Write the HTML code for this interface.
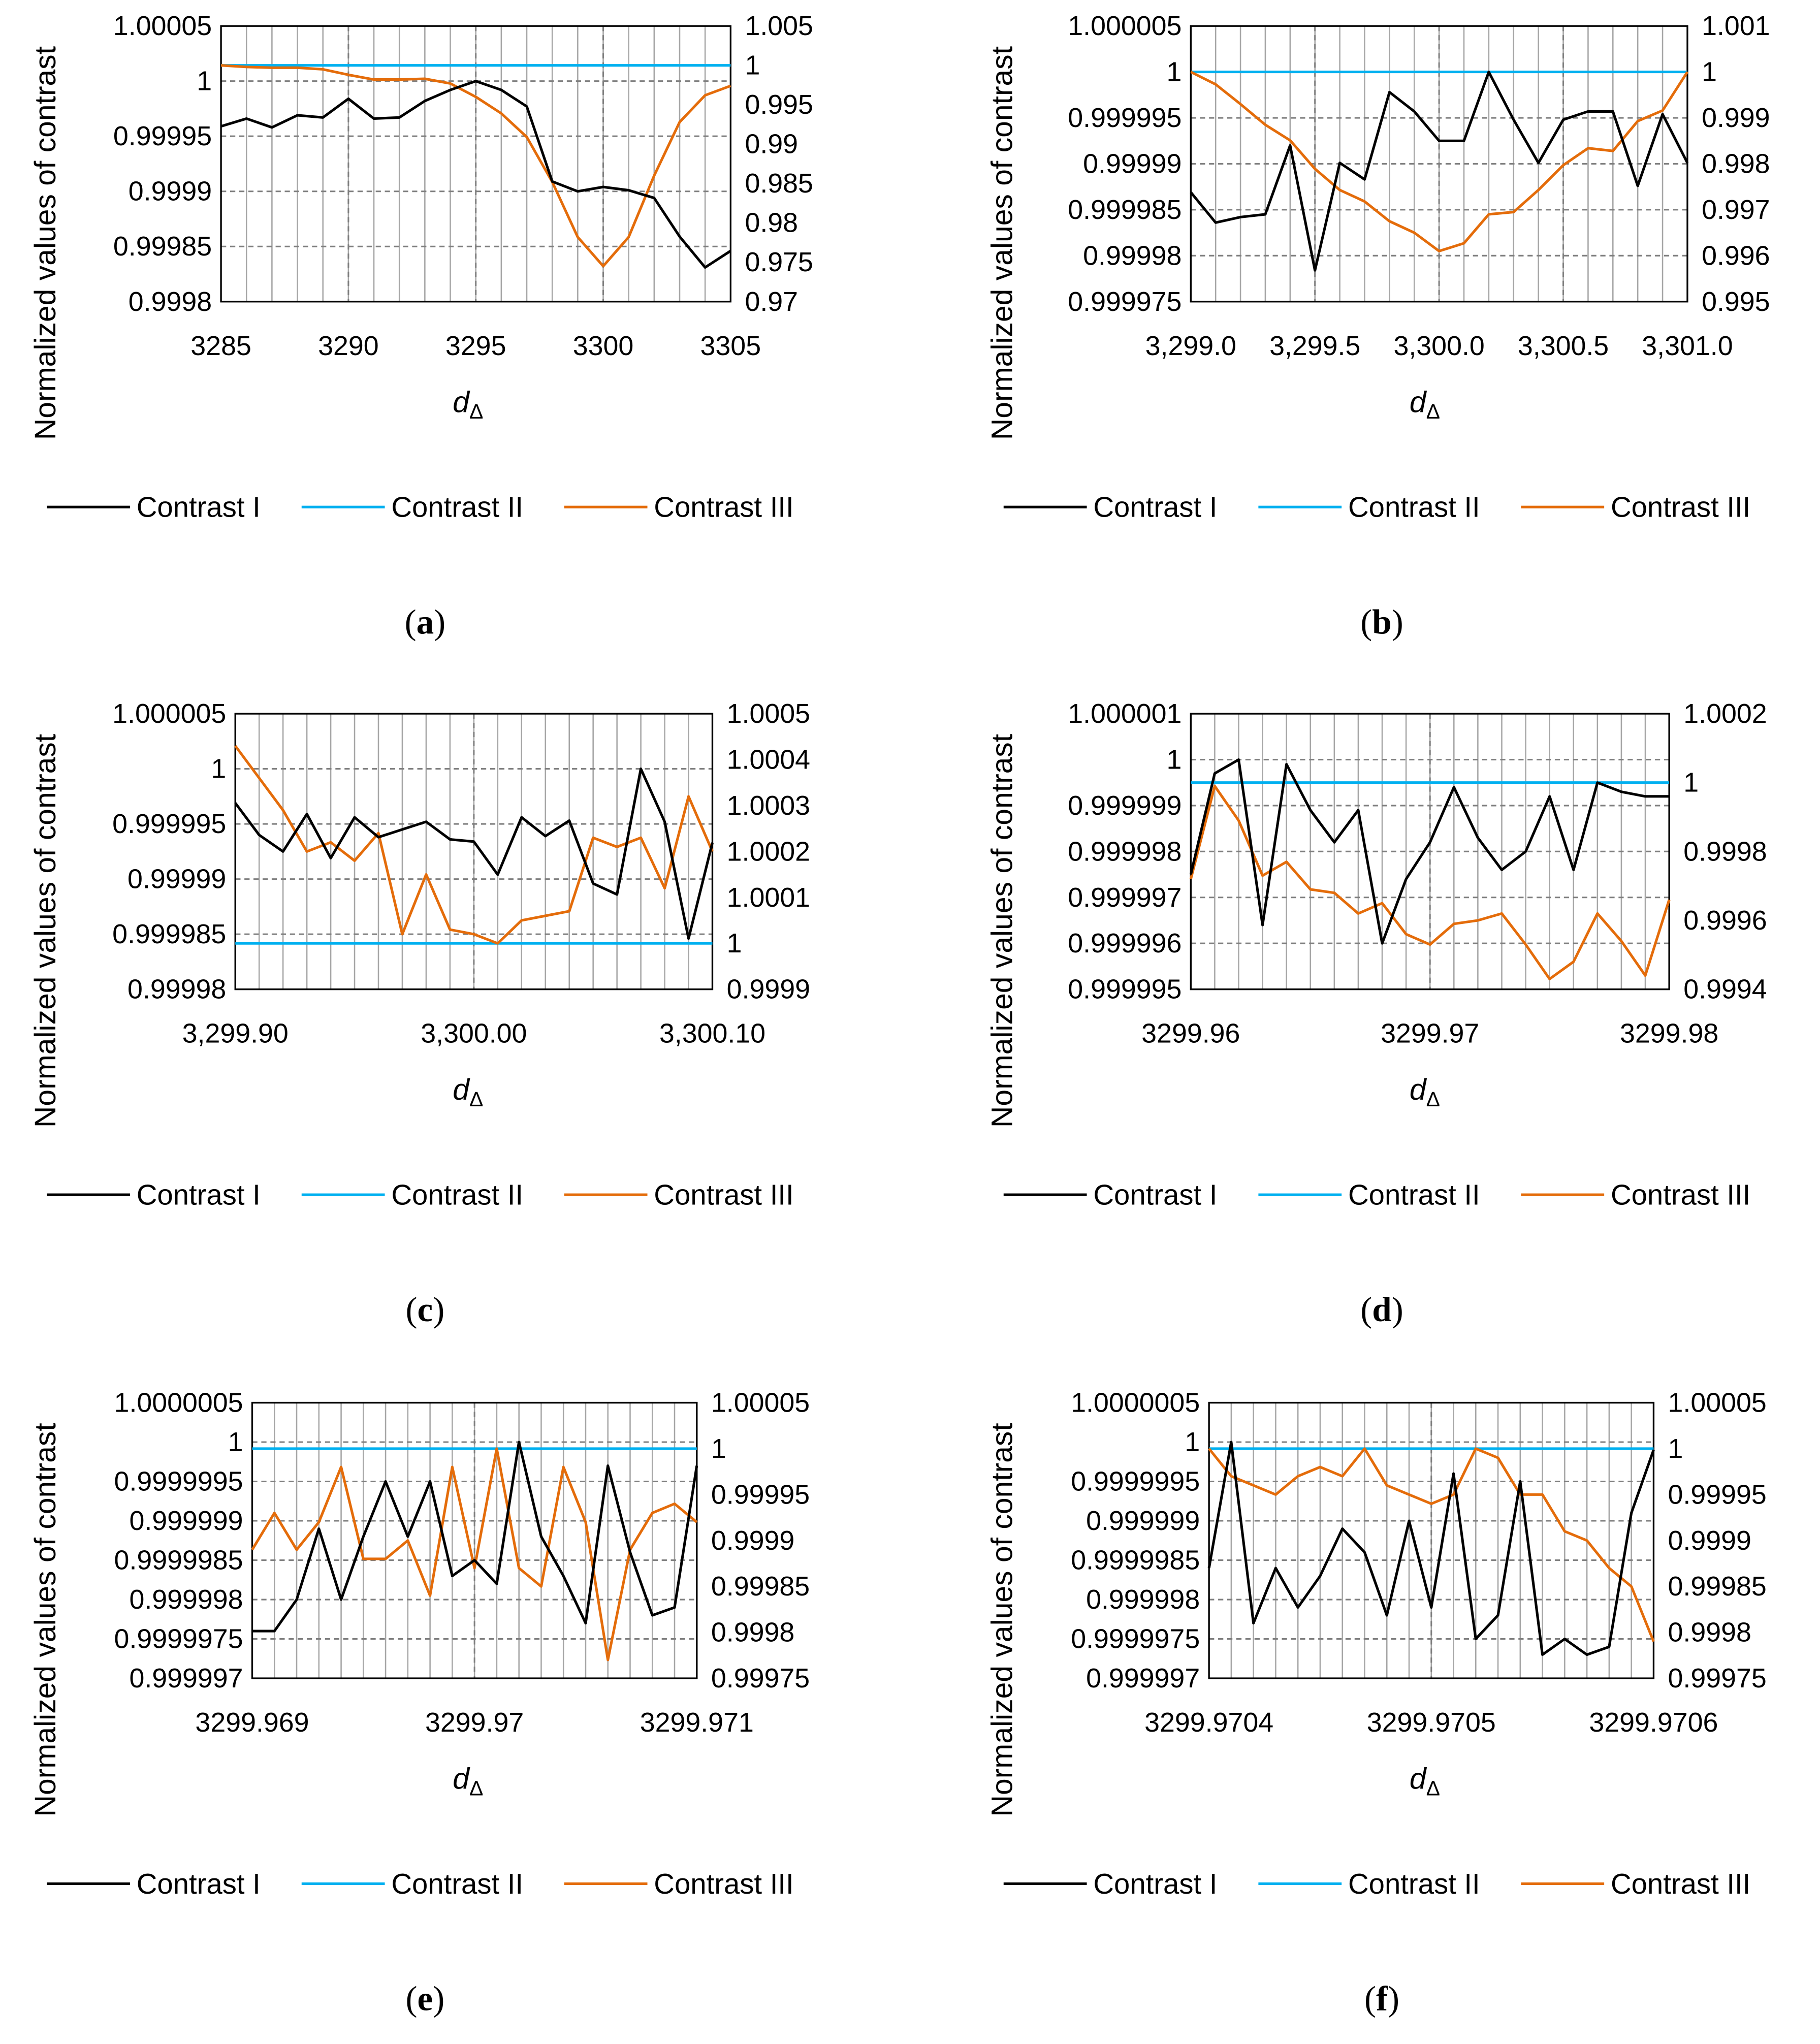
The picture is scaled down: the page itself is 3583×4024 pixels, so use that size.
<!DOCTYPE html>
<html><head><meta charset="utf-8">
<style>
html,body{margin:0;padding:0;background:#fff;}
svg{display:block;}
text{font-family:"Liberation Sans",sans-serif;fill:#000;}
</style></head>
<body>
<svg id="fig" width="3583" height="4024" viewBox="0 0 1400 1572.3" preserveAspectRatio="none" xmlns="http://www.w3.org/2000/svg"></svg>
<script>
// ---- data (index 0..20 across each x range) ----
const aBlack=[0.999959,0.999966,0.999958,0.999969,0.999967,0.999984,0.999966,0.999967,0.999982,0.999992,1.000000,0.999992,0.999977,0.999909,0.999900,0.999904,0.999901,0.999894,0.999859,0.999831,0.999846];
const aOrange=[1.0000,0.9998,0.9997,0.9997,0.9995,0.9988,0.9982,0.9982,0.9983,0.9977,0.9960,0.9939,0.9909,0.9852,0.9782,0.9745,0.9782,0.9860,0.9928,0.9962,0.9974];
const bBlack=[0.9999869,0.9999836,0.9999842,0.9999845,0.9999920,0.9999784,0.9999901,0.9999883,0.9999978,0.9999957,0.9999925,0.9999925,1.0000000,0.9999948,0.9999901,0.9999948,0.9999957,0.9999957,0.9999876,0.9999954,0.9999901];
const bOrange=[1.0000,0.99973,0.99930,0.99885,0.99851,0.99789,0.99743,0.99718,0.99675,0.99650,0.99610,0.99627,0.99690,0.99695,0.99743,0.99797,0.99834,0.99828,0.99893,0.99916,1.0000];
const cBlack=[0.9999969,0.9999940,0.9999925,0.9999959,0.9999919,0.9999956,0.9999938,0.9999945,0.9999952,0.9999936,0.9999934,0.9999904,0.9999956,0.9999939,0.9999953,0.9999896,0.9999886,1.0000000,0.9999952,0.9999846,0.9999933];
const cOrange=[1.00043,1.00036,1.00029,1.00020,1.00022,1.00018,1.00024,1.00002,1.00015,1.00003,1.00002,1.00000,1.00005,1.00006,1.00007,1.00023,1.00021,1.00023,1.00012,1.00032,1.00020];
const dBlack=[0.9999975,0.9999997,1.0000000,0.9999964,0.9999999,0.9999989,0.9999982,0.9999989,0.9999960,0.9999974,0.9999982,0.9999994,0.9999983,0.9999976,0.9999980,0.9999992,0.9999976,0.9999995,0.9999993,0.9999992,0.9999992];
const dOrange=[0.99972,0.99999,0.99989,0.99973,0.99977,0.99969,0.99968,0.99962,0.99965,0.99956,0.99953,0.99959,0.99960,0.99962,0.99953,0.99943,0.99948,0.99962,0.99954,0.99944,0.99966];
const eBlack=[0.9999976,0.9999976,0.9999980,0.9999989,0.9999980,0.9999988,0.9999995,0.9999988,0.9999995,0.9999983,0.9999985,0.9999982,1.0000000,0.9999988,0.9999983,0.9999977,0.9999997,0.9999986,0.9999978,0.9999979,0.9999997];
const eOrange=[0.99989,0.99993,0.99989,0.99992,0.99998,0.99988,0.99988,0.99990,0.99984,0.99998,0.99987,1.00000,0.99987,0.99985,0.99998,0.99992,0.99977,0.99989,0.99993,0.99994,0.99992];
const fBlack=[0.9999984,1.0000000,0.9999977,0.9999984,0.9999979,0.9999983,0.9999989,0.9999986,0.9999978,0.9999990,0.9999979,0.9999996,0.9999975,0.9999978,0.9999995,0.9999973,0.9999975,0.9999973,0.9999974,0.9999991,0.9999999];
const fOrange=[1.00000,0.99997,0.99996,0.99995,0.99997,0.99998,0.99997,1.00000,0.99996,0.99995,0.99994,0.99995,1.00000,0.99999,0.99995,0.99995,0.99991,0.99990,0.99987,0.99985,0.99979];
const contrastII=1;
// tick labels
const aLeft=["1.00005","1","0.99995","0.9999","0.99985","0.9998"], aRight=["1.005","1","0.995","0.99","0.985","0.98","0.975","0.97"], aX=["3285","3290","3295","3300","3305"];
const bLeft=["1.000005","1","0.999995","0.99999","0.999985","0.99998","0.999975"], bRight=["1.001","1","0.999","0.998","0.997","0.996","0.995"], bX=["3,299.0","3,299.5","3,300.0","3,300.5","3,301.0"];
const cLeft=["1.000005","1","0.999995","0.99999","0.999985","0.99998"], cRight=["1.0005","1.0004","1.0003","1.0002","1.0001","1","0.9999"], cX=["3,299.90","3,300.00","3,300.10"];
const dLeft=["1.000001","1","0.999999","0.999998","0.999997","0.999996","0.999995"], dRight=["1.0002","1","0.9998","0.9996","0.9994"], dX=["3299.96","3299.97","3299.98"];
const eLeft=["1.0000005","1","0.9999995","0.999999","0.9999985","0.999998","0.9999975","0.999997"], eRight=["1.00005","1","0.99995","0.9999","0.99985","0.9998","0.99975"], eX=["3299.969","3299.97","3299.971"];
const fLeft=eLeft, fRight=eRight, fX=["3299.9704","3299.9705","3299.9706"];

const panels=[
 {id:'a',x0:170,x1:562,y0:20,y1:232,lMin:0.9998,lMax:1.00005,rMin:0.97,rMax:1.005,L:aLeft,R:aRight,X:aX,blk:aBlack,org:aOrange,ox:0,oy:0},
 {id:'b',x0:916,x1:1298,y0:20,y1:232,lMin:0.999975,lMax:1.000005,rMin:0.995,rMax:1.001,L:bLeft,R:bRight,X:bX,blk:bBlack,org:bOrange,ox:736,oy:0},
 {id:'c',x0:181,x1:548,y0:549,y1:761,lMin:0.99998,lMax:1.000005,rMin:0.9999,rMax:1.0005,L:cLeft,R:cRight,X:cX,blk:cBlack,org:cOrange,ox:0,oy:529},
 {id:'d',x0:916,x1:1284,y0:549,y1:761,lMin:0.999995,lMax:1.000001,rMin:0.9994,rMax:1.0002,L:dLeft,R:dRight,X:dX,blk:dBlack,org:dOrange,ox:736,oy:529},
 {id:'e',x0:194,x1:536,y0:1079,y1:1291,lMin:0.999997,lMax:1.0000005,rMin:0.99975,rMax:1.00005,L:eLeft,R:eRight,X:eX,blk:eBlack,org:eOrange,ox:0,oy:1059},
 {id:'f',x0:930,x1:1272,y0:1079,y1:1291,lMin:0.999997,lMax:1.0000005,rMin:0.99975,rMax:1.00005,L:fLeft,R:fRight,X:fX,blk:fBlack,org:fOrange,ox:736,oy:1059}
];
const NS='http://www.w3.org/2000/svg';
const svg=document.getElementById('fig');
function mk(tag,attrs,parent,txt){const e=document.createElementNS(NS,tag);for(const k in attrs)e.setAttribute(k,attrs[k]);if(txt!==undefined)e.textContent=txt;parent.appendChild(e);return e;}
panels.forEach(p=>{
  const g=mk('g',{},svg);
  
  
  const n=p.blk.length-1;
  const xs=i=>p.x0+(p.x1-p.x0)*i/n;
  const yl=v=>p.y1-(v-p.lMin)/(p.lMax-p.lMin)*(p.y1-p.y0);
  const yr=v=>p.y1-(v-p.rMin)/(p.rMax-p.rMin)*(p.y1-p.y0);
  for(let i=1;i<n;i++){const l=mk('line',{x1:xs(i),x2:xs(i),y1:p.y0,y2:p.y1,stroke:'#a6a6a6','stroke-width':1},g);
    }
  const nx=p.X.length-1;
  for(let k=1;k<nx;k++){const x=p.x0+(p.x1-p.x0)*k/nx;const l=mk('line',{x1:x,x2:x,y1:p.y0,y2:p.y1,stroke:'#7f7f7f','stroke-width':1.2,'stroke-dasharray':'4,3'},g);
    }
  const nl=p.L.length-1;
  for(let k=0;k<=nl;k++){const y=p.y0+(p.y1-p.y0)*k/nl;
    if(k>0&&k<nl){const l=mk('line',{x1:p.x0,x2:p.x1,y1:y,y2:y,stroke:'#7f7f7f','stroke-width':1.2,'stroke-dasharray':'4,3'},g);
      }
    const t=mk('text',{x:p.x0-7,y:y,'text-anchor':'end','dominant-baseline':'central','font-size':21},g,p.L[k]);
    }
  const nr=p.R.length-1;
  for(let k=0;k<=nr;k++){const y=p.y0+(p.y1-p.y0)*k/nr;
    const t=mk('text',{x:p.x1+11,y:y,'text-anchor':'start','dominant-baseline':'central','font-size':21},g,p.R[k]);
    }
  for(let k=0;k<=nx;k++){const x=p.x0+(p.x1-p.x0)*k/nx;
    const t=mk('text',{x:x,y:p.y1+34,'text-anchor':'middle','dominant-baseline':'central','font-size':21},g,p.X[k]);
    }
  const box=mk('rect',{x:p.x0,y:p.y0,width:p.x1-p.x0,height:p.y1-p.y0,fill:'none',stroke:'#000','stroke-width':1.3},g);
  
  const bl=mk('line',{x1:p.x0,x2:p.x1,y1:yr(contrastII),y2:yr(contrastII),stroke:'#00b0f0','stroke-width':2},g);
  
  const op=mk('polyline',{points:p.org.map((v,i)=>xs(i)+','+yr(v)).join(' '),fill:'none',stroke:'#e46c0a','stroke-width':2,'stroke-linejoin':'round'},g);
  
  const kp=mk('polyline',{points:p.blk.map((v,i)=>xs(i)+','+yl(v)).join(' '),fill:'none',stroke:'#000','stroke-width':2,'stroke-linejoin':'round'},g);
  
  const yt=mk('text',{x:0,y:0,transform:`translate(${35+p.ox},${187+p.oy}) rotate(-90)`,'text-anchor':'middle','dominant-baseline':'central','font-size':23},g,'Normalized values of contrast');
  
  const xt=mk('text',{x:360+p.ox,y:317+p.oy,'font-size':23,'font-style':'italic','text-anchor':'middle'},g,'d');
  
  mk('tspan',{'font-size':16,'font-style':'normal',dy:5},xt,'Δ');
  const leg=[['Contrast I','#000',36],['Contrast II','#00b0f0',232],['Contrast III','#e46c0a',434]];
  leg.forEach(L=>{
    const lg=mk('g',{},g);
    
    mk('line',{x1:L[2]+p.ox,x2:L[2]+64+p.ox,y1:390+p.oy,y2:390+p.oy,stroke:L[1],'stroke-width':2},lg);
    mk('text',{x:L[2]+69+p.ox,y:390+p.oy,'dominant-baseline':'central','font-size':22},lg,L[0]);
  });
  const cap=mk('text',{x:327+p.ox,y:478+p.oy,'text-anchor':'middle','dominant-baseline':'central','font-size':27,style:'font-family:"Liberation Serif",serif'},g);
  
  mk('tspan',{},cap,'(');mk('tspan',{'font-weight':'bold'},cap,p.id);mk('tspan',{},cap,')');
});
</script>
</body></html>
